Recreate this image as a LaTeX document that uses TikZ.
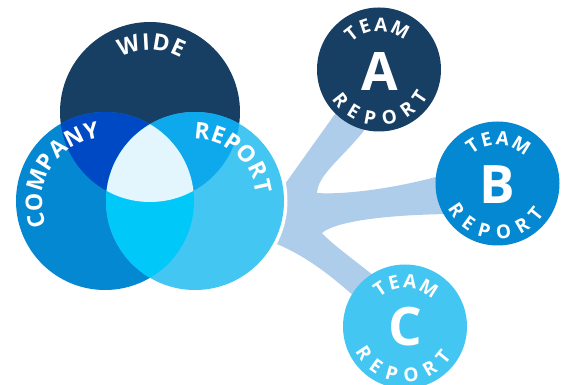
\documentclass[tikz,border=0pt]{standalone}
\usepackage{fontspec}
\setmainfont{Open Sans}
\definecolor{navy}{HTML}{173E63}
\definecolor{midblue}{HTML}{0388D1}
\definecolor{lightblue}{HTML}{43C6F2}
\definecolor{tlcol}{HTML}{0049C4}
\definecolor{trcol}{HTML}{0DA9EC}
\definecolor{lrcol}{HTML}{00C8F9}
\definecolor{tlrcol}{HTML}{E3F5FD}
\definecolor{conn}{HTML}{AECDEB}
\newcommand\toparc[4]{\foreach \a/\l in {#3} {\path (#1) ++(\a:#2) node[#4, rotate=\a-90] {\l};}}
\newcommand\botarc[4]{\foreach \a/\l in {#3} {\path (#1) ++(\a:#2) node[#4, rotate=\a+90] {\l};}}
\begin{document}
\begin{tikzpicture}[x=1pt,y=1pt,
  vtxt/.style={text=white, inner sep=0, font=\fontsize{23}{23}\selectfont\bfseries},
  ttxt/.style={text=white, inner sep=0, font=\fontsize{19}{19}\selectfont\bfseries},
  bigltr/.style={text=white, inner sep=0, font=\fontsize{53}{53}\selectfont\bfseries},
  teamcirc/.style={circle, minimum size=124pt, inner sep=0}]
\useasboundingbox (0,0) rectangle (566,385);
\coordinate (wideC) at (150,273);
\coordinate (compC) at (105,184);
\coordinate (repC) at (195,184);
% connector
\fill[conn] (280,194) -- (345,285) -- (372,270) -- (363,253)
  .. controls (340,225) and (318,210) .. (317,192)
  .. controls (345,190) and (400,197) .. (450,212) -- (450,171)
  .. controls (380,170) and (335,163) .. (322,152)
  .. controls (335,138) and (355,125) .. (385,100) -- (355,88)
  .. controls (330,110) and (305,130) .. (272,143) -- (265,190) -- cycle;
% venn
\fill[white] (repC) circle (92.5);
\fill[navy] (wideC) circle (90);
\fill[midblue] (compC) circle (89);
\fill[lightblue] (repC) circle (89);
\begin{scope}\clip (wideC) circle (90); \fill[tlcol] (compC) circle (89); \end{scope}
\begin{scope}\clip (wideC) circle (90); \fill[trcol] (repC) circle (89); \end{scope}
\begin{scope}\clip (compC) circle (89); \fill[lrcol] (repC) circle (89); \end{scope}
\begin{scope}\clip (wideC) circle (90); \clip (compC) circle (89); \fill[tlrcol] (repC) circle (89); \end{scope}
\toparc{wideC}{70}{108/W,93.3/I,80.6/D,66/E}{vtxt}
\toparc{compC}{71}{196/C,180.8/O,162.8/M,146.3/P,131.9/A,116.2/N,101.4/Y}{vtxt}
\toparc{repC}{70}{84/R,70.5/E,57.2/P,41.9/O,26.2/R,12.4/T}{vtxt}
% teams
\node[teamcirc, fill=navy] (teamA) at (379,315.5) {};
\node[teamcirc, fill=midblue] (teamB) at (497.5,201.5) {};
\node[teamcirc, fill=lightblue] (teamC) at (405,58.5) {};
\node[bigltr] (ltrA) at (380,313) {A};
\node[bigltr] (ltrB) at (497.5,200) {B};
\node[bigltr] (ltrC) at (405,58) {C};
\toparc{teamA}{45}{128/T,108.5/E,87.5/A,62/M}{ttxt}
\botarc{teamA}{49}{-141.6/R,-121/E,-100.7/P,-77.9/O,-54.8/R,-34/T}{ttxt}
\toparc{teamB}{45}{124/T,104.5/E,83.5/A,58/M}{ttxt}
\botarc{teamB}{49}{-146.6/R,-126/E,-105.7/P,-82.9/O,-59.8/R,-39/T}{ttxt}
\toparc{teamC}{45}{124/T,104.5/E,83.5/A,58/M}{ttxt}
\botarc{teamC}{49}{-146.6/R,-126/E,-105.7/P,-82.9/O,-59.8/R,-39/T}{ttxt}
\end{tikzpicture}
\end{document}
